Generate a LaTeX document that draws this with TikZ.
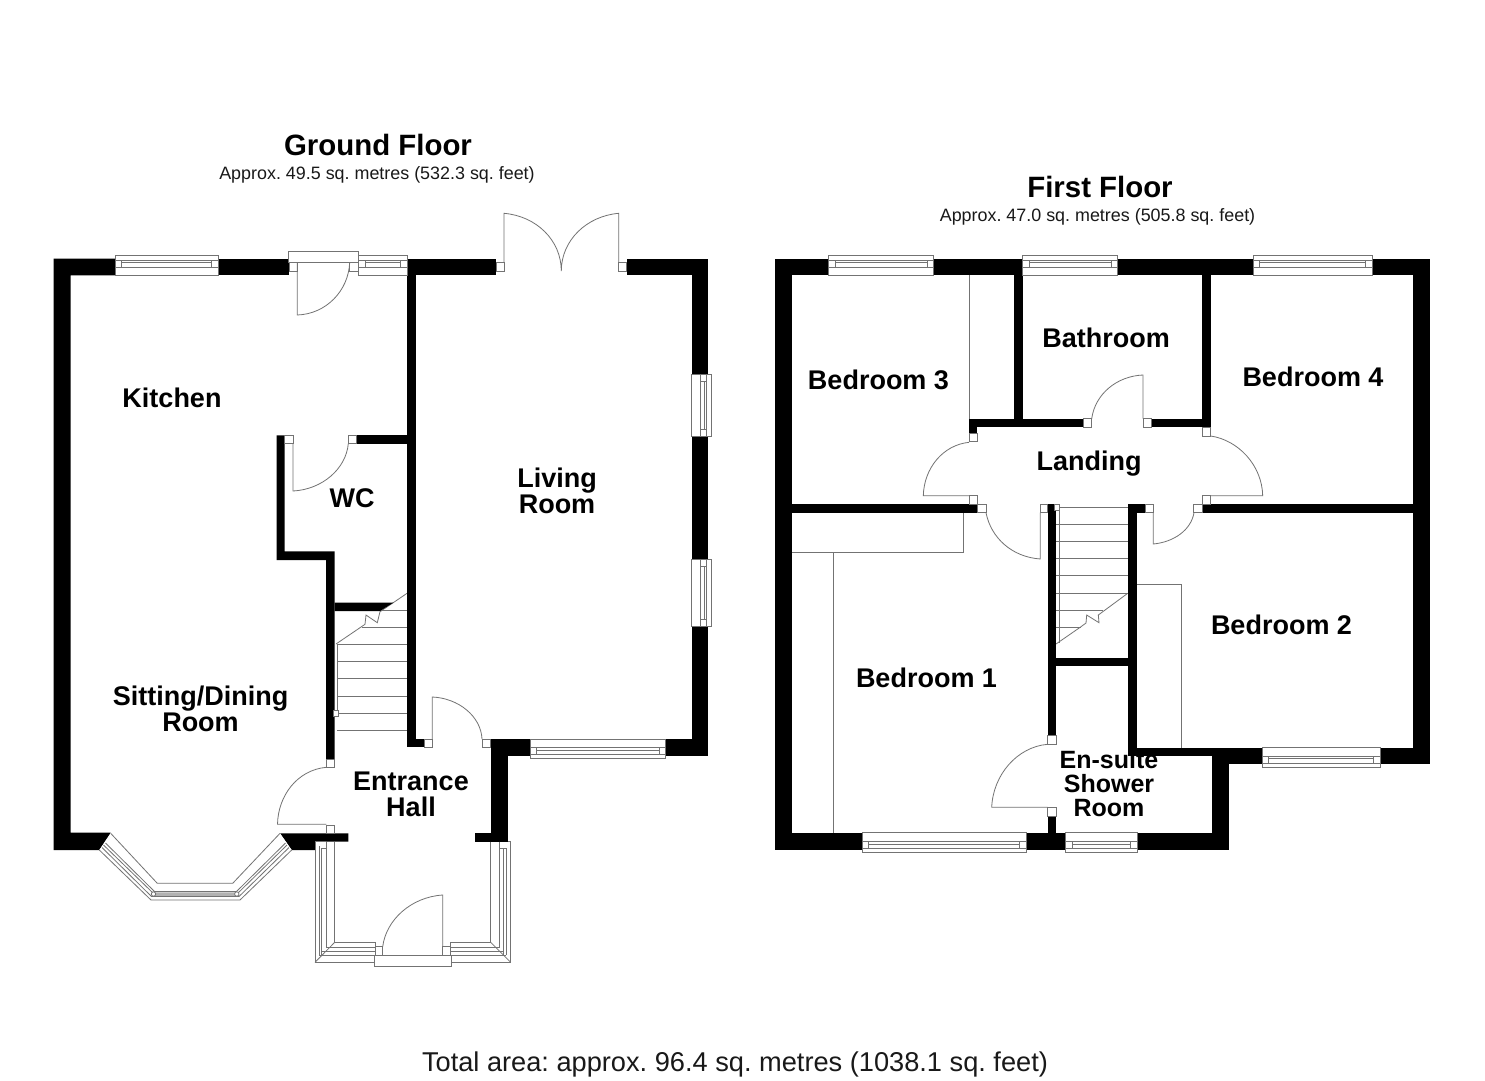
\documentclass[tikz,border=0pt]{standalone}
\usepackage{fontspec}
\setmainfont{Liberation Sans}
\frenchspacing
\tikzset{
  wall/.style={fill=black,draw=none},
  thin line/.style={draw=black!55,line width=0.8pt},
  jambbox/.style={draw=black!55,line width=0.8pt,fill=white},
  room/.style={font=\fontsize{27}{26}\selectfont\bfseries,align=center,text=black,inner sep=0pt},
  title/.style={font=\fontsize{29.4}{30}\selectfont\bfseries,align=center,inner sep=0pt},
  subtitle/.style={font=\fontsize{17.9}{18}\selectfont,align=center,text=black!90,inner sep=0pt}
}
% horizontal window in a top wall: x0 x1 top bottom
\newcommand{\hwin}[4]{%
  \fill[white] (#1,#3) rectangle (#2,#4);
  \draw[thin line] (#1,#3) rectangle (#2,#4);
  \draw[thin line] (#1,#3+5) -- (#2,#3+5) (#1,#3+11.7) -- (#2,#3+11.7);
  \draw[thin line] (#1+6.5,#3+5) -- (#1+6.5,#3+11.7) (#2-6.5,#3+5) -- (#2-6.5,#3+11.7);
  \draw[thin line] (#1+6.5,#3+7.5) -- (#2-6.5,#3+7.5);
}
% horizontal window in a bottom wall: x0 x1 top bottom
\newcommand{\hwinb}[4]{%
  \fill[white] (#1,#3) rectangle (#2,#4);
  \draw[thin line] (#1,#3) rectangle (#2,#4);
  \draw[thin line] (#1,#4-4.4) -- (#2,#4-4.4) (#1,#4-11.4) -- (#2,#4-11.4);
  \draw[thin line] (#1+6.5,#4-4.4) -- (#1+6.5,#4-11.4) (#2-6.5,#4-4.4) -- (#2-6.5,#4-11.4);
  \draw[thin line] (#1+6.5,#4-8.6) -- (#2-6.5,#4-8.6);
}
% vertical window on a right wall: left right y0 y1
\newcommand{\vwin}[4]{%
  \fill[white] (#1,#3) rectangle (#2,#4);
  \draw[thin line] (#1,#3) rectangle (#2,#4);
  \draw[thin line] (#1+8.3,#3) -- (#1+8.3,#4) (#1+15,#3) -- (#1+15,#4);
  \draw[thin line] (#1+8.3,#3+7) -- (#1+15,#3+7) (#1+8.3,#4-7) -- (#1+15,#4-7);
  \draw[thin line] (#1+12.5,#3+7) -- (#1+12.5,#4-7);
}
\newcommand{\jamb}[4]{\draw[jambbox] (#1,#2) rectangle (#3,#4);}
\begin{document}
\begin{tikzpicture}[x=1pt,y=-1pt]
\useasboundingbox (0,0) rectangle (1485,1080);
\fill[white] (0,0) rectangle (1485,1080);

% ---- text
\node[title] (gf) at (378,145) {Ground Floor};
\node[subtitle] (gfa) at (377,174.5) {Approx. 49.5 sq. metres (532.3 sq. feet)};
\node[title] (ff) at (1100,187) {First Floor};
\node[subtitle] (ffa) at (1097.5,216.5) {Approx. 47.0 sq. metres (505.8 sq. feet)};
\node[font=\fontsize{27.2}{27}\selectfont,inner sep=0pt,text=black!90] (tot) at (735,1064) {Total area: approx. 96.4 sq. metres (1038.1 sq. feet)};
\node[room] (kit) at (172,398) {Kitchen};
\node[room] (wc) at (352,498) {WC};
\node[room] (liv) at (557,491) {Living\\[0pt]Room};
\node[room] (sit) at (200.5,709) {Sitting/Dining\\[0pt]Room};
\node[room] (ent) at (411,794) {Entrance\\[0pt]Hall};
\node[room] (b3) at (878.5,380) {Bedroom 3};
\node[room] (bath) at (1106,338) {Bathroom};
\node[room] (b4) at (1313,377) {Bedroom 4};
\node[room] (land) at (1089,464) {Landing};
\node[room] (b2) at (1281.5,625) {Bedroom 2};
\node[room] (b1) at (926.5,678) {Bedroom 1};
\node[room,font=\fontsize{25}{24}\selectfont\bfseries] (ens) at (1109,784) {En-suite\\[0pt]Shower\\[0pt]Room};

% ==== GROUND FLOOR thin things under walls
\foreach \y in {644.7,661.7,678.7,696,713.3,730.3}{\draw[thin line] (337,\y) -- (407.3,\y);}
\draw[thin line] (380,610.3) -- (407.3,610.3);
\draw[thin line] (362,627.3) -- (407.3,627.3);
\draw[thin line] (337.5,644) -- (337.5,713);
\draw[thin line] (336,644) -- (365,624.3) -- (366,615) -- (377.3,622.7) -- (380,611.7) -- (407,593.3);

% walls ground
\fill[wall] (53.7,258.7) -- (115.3,258.7) -- (115.3,275.3) -- (70.7,275.3) -- (70.7,832.7) -- (110.7,832.7) -- (99.3,850) -- (53.7,850) -- cycle;
\fill[wall] (218,258.7) rectangle (289.3,275.3);
\fill[wall] (407.3,258.7) rectangle (496,275.3);
\fill[wall] (407.3,258.7) rectangle (415.7,739);
\fill[wall] (407.3,739) rectangle (424,747.3);
\fill[wall] (626.7,258.7) rectangle (708.3,275.3);
\fill[wall] (691.7,258.7) rectangle (708.3,756);
\fill[wall] (665.7,739) rectangle (708.3,756);
\fill[wall] (490.7,739) rectangle (530,756);
\fill[wall] (490.7,739) rectangle (508,841.7);
\fill[wall] (474.7,833.3) rectangle (508,841.7);
\fill[wall] (356.7,435.3) rectangle (407.3,443.7);
\fill[wall] (276.5,435.3) -- (284.5,435.3) -- (284.5,551.3) -- (334.5,551.3) -- (334.5,759) -- (326.2,759) -- (326.2,560) -- (276.5,560) -- cycle;
\fill[wall] (334.5,602.7) -- (393.3,602.7) -- (380,611) -- (334.5,611) -- cycle;
\fill[wall] (280,833.3) -- (348.3,833.3) -- (348.3,841.7) -- (315,841.7) -- (315,850) -- (291.7,850) -- cycle;

% windows ground
\hwin{115.3}{218.3}{255.3}{275.3}
\hwin{358.7}{407.3}{255.3}{275.3}
\hwinb{530}{665.7}{739}{758.7}
\vwin{691.7}{711.7}{374.3}{436.7}
\vwin{691.7}{711.7}{559.3}{626.3}

% back door
\draw[jambbox] (288.7,251.3) rectangle (358.3,262.3);
\jamb{289.3}{262.3}{297.3}{271.3}
\jamb{349.7}{262.3}{358.3}{271.3}
\draw[thin line] (297.3,262.3) -- (297.3,315) .. controls (326,314) and (348.5,291) .. (349.7,262.3);
% WC door
\jamb{284.7}{435.3}{293}{443.7}
\jamb{348.3}{435.3}{356.7}{443.7}
\draw[thin line] (293,443.7) -- (293,491) .. controls (322,489.5) and (346,469) .. (348.3,443.7);
% French doors
\jamb{496}{262.3}{504}{271.3}
\jamb{618.7}{262.3}{626.7}{271.3}
\draw[thin line] (504,262.3) -- (504,213.3) .. controls (536,216) and (561.3,240) .. (561.3,271) .. controls (561.3,240) and (587,216) .. (618.7,213.3) -- (618.7,262.3);
% Living door
\jamb{424}{739}{432.3}{747.3}
\jamb{482.3}{739}{490.7}{747.3}
\draw[thin line] (432.3,739) -- (432.3,697) .. controls (458,698) and (481,716) .. (482,739);
% Sitting door
\jamb{326.3}{759}{334.7}{767.3}
\draw[thin line] (326.3,767.3) .. controls (297,770) and (278,796) .. (277.5,824.3) -- (326.3,824.3);

% Bay
\fill[white] (110.7,833.3) -- (157.3,883.3) -- (232.7,883.3) -- (280,833.3) -- (291.7,850) -- (240,900) -- (151,900) -- (99.3,850) -- cycle;
\draw[thin line] (110.7,833.3) -- (157.3,883.3) -- (232.7,883.3) -- (280,833.3);
\draw[thin line] (99.3,850) -- (151,900) -- (240,900) -- (291.7,850);
\draw[thin line] (103.5,845) -- (153,893) -- (238,893) -- (287,845);
\draw[thin line] (105.5,843) -- (154.5,891.5) -- (236.5,891.5) -- (285.5,843);
\draw[thin line] (102,847.5) -- (151.5,896.5) -- (239,896.5) -- (289,847.5);
\fill[black!30] (155,892.5) rectangle (235,896);
\draw[jambbox] (153.5,894) circle[radius=2.2];
\draw[jambbox] (236.8,894) circle[radius=2.2];

% Porch
\draw[thin line] (315,841.7) -- (315,962.3) -- (375,962.3);
\draw[thin line] (334.7,841.7) -- (334.7,942.3) -- (375.7,942.3);
\draw[thin line] (326.3,841.7) -- (326.3,947) (319.3,846) -- (319.3,955) (321.7,848) -- (321.7,955);
\draw[thin line] (315,962.3) -- (334.7,942.3);
\draw[thin line] (319.3,955) -- (375.7,955) (326.3,947) -- (375.7,947);
\draw[thin line] (321.7,951) -- (375.7,951);
\draw[thin line] (315,841.7) -- (326.3,841.7) (321.7,848) -- (326.3,848);
\draw[thin line] (375.7,942.3) -- (375.7,962.3);
\draw[thin line] (510.7,841.7) -- (510.7,962.3) -- (450,962.3);
\draw[thin line] (490.7,841.7) -- (490.7,942.3) -- (450,942.3);
\draw[thin line] (499.7,841.7) -- (499.7,947) (506.3,848) -- (506.3,955) (503,848) -- (503,955);
\draw[thin line] (510.7,962.3) -- (490.7,942.3);
\draw[thin line] (506.3,955) -- (450,955) (499.7,947) -- (450,947);
\draw[thin line] (503,951) -- (450,951);
\draw[thin line] (499.7,848) -- (506.3,848) (508,841.7) -- (510.7,841.7);
\draw[thin line] (450,942.3) -- (450,962.3);
\draw[jambbox] (374,955.7) rectangle (451.7,966);
\jamb{375.7}{946.7}{382.5}{955.7}
\jamb{442.7}{946.7}{450}{955.7}
\draw[thin line] (442.7,946.7) -- (442.7,895) .. controls (411,897) and (386,920) .. (382.7,946.7);
\jamb{326.3}{825.5}{334.7}{833.3}
% newel
\jamb{333}{710.7}{338}{716}

% ==== FIRST FLOOR thin things under walls
\foreach \y in {507,524.2,541.5,558.7,575.8,593}{\draw[thin line] (1056,\y) -- (1128.7,\y);}
\draw[thin line] (1056,610) -- (1103,610);
\draw[thin line] (1056,627) -- (1081,627);
\draw[thin line] (1059,507) -- (1059,643);
\draw[thin line] (1056,644) -- (1081,626.7) -- (1086,623) -- (1086.7,615) -- (1099,622.7) -- (1098.3,615) -- (1127.7,593.3);
\draw[thin line] (969,275) -- (969,418.7);
\draw[thin line] (792,552.7) -- (963.3,552.7) -- (963.3,512.7);
\draw[thin line] (833,552.7) -- (833,833);
\draw[thin line] (1136.7,584.3) -- (1181.7,584.3) -- (1181.7,747.7);

% walls first
\fill[wall] (774.7,258.7) rectangle (1430,275.3);
\fill[wall] (774.7,258.7) rectangle (791.8,850);
\fill[wall] (1413,258.7) rectangle (1430,764);
\fill[wall] (1014.3,258.7) rectangle (1022.7,427.3);
\fill[wall] (1202,258.7) rectangle (1210.7,427.3);
\fill[wall] (969,418.7) rectangle (1083,427.3);
\fill[wall] (969,418.7) rectangle (977.3,433.3);
\fill[wall] (1151,418.7) rectangle (1210.7,427.3);
\fill[wall] (791.8,504) rectangle (977.3,512.7);
\fill[wall] (1202,504) rectangle (1413,512.7);
\fill[wall] (1047.5,504) rectangle (1056,735.7);
\fill[wall] (1128.3,504) rectangle (1145,512.7);
\fill[wall] (1128.3,504) rectangle (1136.7,756);
\fill[wall] (1056,658.3) rectangle (1128.3,666);
\fill[wall] (1128.3,747.5) rectangle (1430,756);
\fill[wall] (1212.3,747.5) rectangle (1229.3,850);
\fill[wall] (1212.3,747.5) rectangle (1430,764.3);
\fill[wall] (1047.5,816) rectangle (1056,833);
\fill[wall] (774.7,833) rectangle (1229.3,850);

% windows first
\hwin{828.5}{933.7}{255.3}{275.3}
\hwin{1022.6}{1117.8}{255.3}{275.3}
\hwin{1253.3}{1372}{255.3}{275.3}
\hwinb{862}{1026.3}{832.7}{852.7}
\hwinb{1065.7}{1137.3}{832.7}{852.7}
\hwinb{1262}{1380}{747.5}{767.3}

% doors first
\jamb{1083}{418.7}{1091.3}{427.3}
\jamb{1143}{418.7}{1151}{427.3}
\draw[thin line] (1091.7,418.7) .. controls (1095,394) and (1117,376) .. (1143,375) -- (1143,418.7);
\jamb{969}{433.3}{977.3}{441.7}
\jamb{969}{495.7}{977.3}{504}
\draw[thin line] (969,442.3) .. controls (943,445) and (924,468) .. (923.3,495.7) -- (969,495.7);
\jamb{977.3}{504}{986}{512.7}
\jamb{1040.3}{504}{1047.5}{512.7}
\draw[thin line] (986,512.7) .. controls (991,538) and (1012,557) .. (1040.3,559) -- (1040.3,512.7);
\jamb{1145}{504}{1153.3}{512.7}
\jamb{1193.7}{504}{1202}{512.7}
\draw[thin line] (1153.3,512.7) -- (1153.3,544) .. controls (1174,542) and (1191,530) .. (1194,512.7);
\jamb{1202}{427.3}{1210.7}{436}
\jamb{1202}{495.7}{1210.7}{504}
\draw[thin line] (1210.7,436) .. controls (1238,440) and (1262,465) .. (1262.7,495.7) -- (1210.7,495.7);
\jamb{1054.7}{504.3}{1059.3}{510}
\jamb{1047.5}{735.7}{1056}{744.3}
\jamb{1047.5}{807.3}{1056}{816}
\draw[thin line] (1047.5,744.3) .. controls (1017,747) and (993,775) .. (991.7,807.3) -- (1047.5,807.3);
\end{tikzpicture}
\end{document}
